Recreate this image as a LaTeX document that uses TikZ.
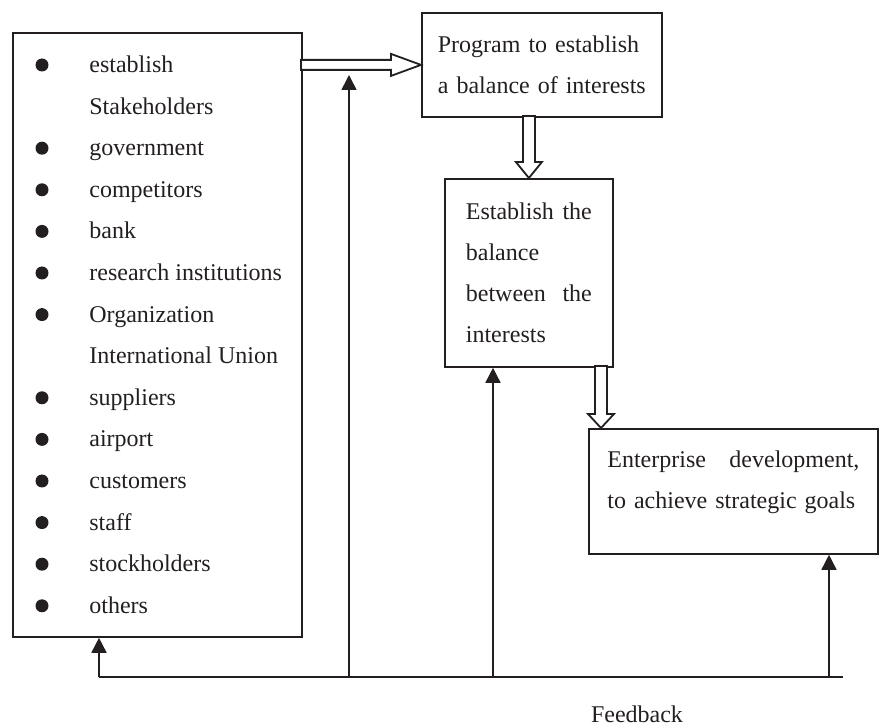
\documentclass[tikz,border=0pt]{standalone}
\usepackage{fontspec}
\setmainfont{Liberation Serif}
\usetikzlibrary{arrows.meta,calc}
\definecolor{cInk}{HTML}{231F20}
\tikzset{
  box/.style  ={rectangle,draw=cInk,line width=0.9pt,inner sep=0pt,
                text=cInk,font=\fontsize{12}{20.5}\selectfont},
  item/.style ={inner sep=0pt,text=cInk,font=\fontsize{12}{14}\selectfont},
  dot/.style  ={circle,fill=cInk,inner sep=0pt,minimum size=6.5pt},
  hol/.style  ={draw=cInk,line width=0.9pt,fill=white,line join=miter},
  ln/.style   ={draw=cInk,line width=0.8pt},
  ar/.style   ={ln,-{Triangle[length=7.5pt,width=7.5pt]}},
}

\begin{document}
\begin{tikzpicture}[x=0.5pt,y=-0.5pt]
\useasboundingbox (0,0) rectangle (880,727);
% boxes
\node[box,anchor=north west,minimum width=144.5pt,minimum height=302pt] (stake) at (12,32) {};
\node[box,anchor=north west,minimum width=120pt,minimum height=52pt,
      text width=104pt,align=left] (prog) at (421,12)
     {Program to establish\\a balance of interests};
\node[box,anchor=north west,minimum width=84pt,minimum height=94pt,
      text width=63pt,align=left] (est) at (444,178)
     {Establish\hfill the\\balance\\between\hfill the\\interests};
\node[box,anchor=north west,minimum width=144.5pt,minimum height=62.5pt,
      text width=126pt,align=left] (ent) at (588,428)
     {Enterprise\hfill development,\\to achieve strategic goals\rule[-12pt]{0pt}{0pt}};
% stakeholder list
\foreach \b/\t [count=\i from 0] in {1/establish,0/Stakeholders,1/government,
    1/competitors,1/bank,1/research institutions,1/Organization,
    0/International Union,1/suppliers,1/airport,1/customers,1/staff,
    1/stockholders,1/others}{
  \ifnum\b=1 \node[dot] (bu\i) at (42,{65+41.6*\i}) {};\fi
  \node[item,anchor=base west] (it\i) at (89,{72.5+41.6*\i}) {\t};
}
% hollow arrows
\draw[hol] (prog.west) -- ++(-30,-11) -- ++(0,6) -- ++(-90,0) -- ++(0,10)
  -- ++(90,0) -- ++(0,6) -- cycle;
\draw[hol] (est.north) -- ++(-13,-16) -- ++(7,0) -- ++(0,-46) -- ++(12,0)
  -- ++(0,46) -- ++(7,0) -- cycle;
\coordinate (t2) at ($(ent.north west)+(13,0)$);
\draw[hol] (t2) -- ++(-13,-14) -- ++(7,0) -- ++(0,-48) -- ++(12,0)
  -- ++(0,48) -- ++(7,0) -- cycle;
% feedback
\coordinate (fbL) at (99,677);
\coordinate (fbR) at (843,677);
\coordinate (fb1) at (349,677);
\coordinate (up1) at (349,75);
\coordinate (fb2) at (493,677);
\coordinate (fb3) at (829,677);
\draw[ln] (fbL) -- (fbR);
\draw[ar] (fbL) -- (fbL |- stake.south);
\draw[ar] (fb1) -- (up1);
\draw[ar] (fb2) -- (fb2 |- est.south);
\draw[ar] (fb3) -- (fb3 |- ent.south);
\node[item] (fbtxt) at (637,714) {Feedback};
\end{tikzpicture}
\end{document}
